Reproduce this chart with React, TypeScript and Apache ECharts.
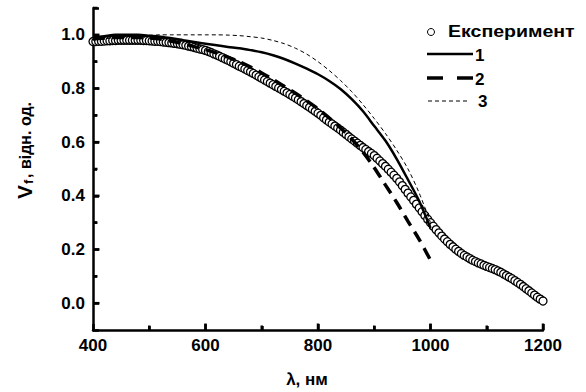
import React, { useEffect, useRef } from "react";
import * as echarts from "echarts";

const expStartNm = 400;
const expStepNm = 5;
const expValues = [
  0.975, 0.975, 0.976, 0.976, 0.977, 0.978, 0.978, 0.979, 0.979, 0.98,
  0.98, 0.98, 0.98, 0.98, 0.98, 0.98, 0.98, 0.98, 0.979, 0.979,
  0.978, 0.977, 0.976, 0.976, 0.975, 0.973, 0.972, 0.971, 0.97, 0.968,
  0.967, 0.965, 0.963, 0.961, 0.958, 0.956, 0.953, 0.95, 0.947, 0.945,
  0.942, 0.938, 0.934, 0.929, 0.925, 0.92, 0.915, 0.91, 0.905, 0.9,
  0.894, 0.889, 0.883, 0.878, 0.873, 0.867, 0.862, 0.856, 0.85, 0.844,
  0.838, 0.832, 0.826, 0.82, 0.814, 0.808, 0.802, 0.796, 0.79, 0.784,
  0.778, 0.771, 0.765, 0.758, 0.751, 0.744, 0.737, 0.73, 0.723, 0.715,
  0.708, 0.7, 0.691, 0.683, 0.675, 0.668, 0.66, 0.653, 0.645, 0.637,
  0.629, 0.62, 0.612, 0.604, 0.596, 0.588, 0.58, 0.573, 0.565, 0.558,
  0.55, 0.54, 0.53, 0.52, 0.51, 0.499, 0.488, 0.477, 0.465, 0.452,
  0.438, 0.424, 0.41, 0.396, 0.383, 0.369, 0.355, 0.341, 0.327, 0.313,
  0.3, 0.287, 0.274, 0.262, 0.25, 0.239, 0.229, 0.219, 0.21, 0.201,
  0.193, 0.185, 0.178, 0.172, 0.166, 0.16, 0.155, 0.15, 0.146, 0.141,
  0.137, 0.133, 0.129, 0.125, 0.12, 0.115, 0.109, 0.103, 0.097, 0.091,
  0.084, 0.077, 0.07, 0.062, 0.054, 0.046, 0.038, 0.03, 0.022, 0.015,
  0.008,
];

const modelNm = [
  400, 420, 440, 460, 480, 500, 520, 540, 560, 580, 600, 620, 640, 660, 680, 700,
  720, 740, 760, 780, 800, 820, 840, 860, 880, 900, 920, 940, 960, 980, 1000,
];
const model1 = [
  0.99, 0.995, 1.0, 1.0, 1.0, 0.997, 0.993, 0.987, 0.98, 0.973, 0.967, 0.961, 0.955, 0.95, 0.943, 0.935,
  0.924, 0.91, 0.893, 0.874, 0.853, 0.828, 0.798, 0.76, 0.715, 0.66, 0.605, 0.537, 0.46, 0.38, 0.28,
];
const model2 = [
  0.985, 0.988, 0.99, 0.99, 0.99, 0.988, 0.984, 0.976, 0.967, 0.956, 0.945, 0.932, 0.917, 0.9, 0.88, 0.858,
  0.834, 0.808, 0.782, 0.754, 0.724, 0.69, 0.653, 0.612, 0.563, 0.505, 0.44, 0.375, 0.305, 0.237, 0.16,
];
const model3 = [
  0.98, 0.985, 0.99, 0.993, 0.996, 0.998, 1.0, 1.0, 1.0, 1.0, 1.0, 1.0, 0.999, 0.997, 0.993, 0.988,
  0.979, 0.967, 0.95, 0.928, 0.9, 0.867, 0.83, 0.788, 0.74, 0.688, 0.632, 0.57, 0.5, 0.41, 0.3,
];

const seriesNames = ["Експеримент", "1", "2", "3"];
const xMin = 400;
const xMax = 1200;
const xStep = 200;
const yMin = -0.1;
const yMax = 1.1;

// tick positions (inward ticks)
const xMajorTicks = [600, 800, 1000, 1200];
const xMinorTicks = [500, 700, 900, 1100];
const yMajorTicks = [0, 0.2, 0.4, 0.6, 0.8, 1.0];
const yMinorTicks = [0.1, 0.3, 0.5, 0.7, 0.9, 1.1];

const FONT = '"Liberation Sans", Arial, sans-serif';

export default function App() {
  const ref = useRef<HTMLDivElement>(null);
  useEffect(() => {
    if (!ref.current) return;
    const chart = echarts.init(ref.current, null, { renderer: "svg" });
    const expData = expValues.map((v, i) => [expStartNm + i * expStepNm, v]);
    const pairs = (ys: number[]) => modelNm.map((x, i) => [x, ys[i]]);
    const xTickData = [
      ...xMajorTicks.map((v) => [v, yMin, 1]),
      ...xMinorTicks.map((v) => [v, yMin, 0]),
    ];
    const yTickData = [
      ...yMajorTicks.map((v) => [xMin, v, 1]),
      ...yMinorTicks.map((v) => [xMin, v, 0]),
    ];
    const axisParts = () => ({
      axisLine: { show: true, onZero: false, lineStyle: { color: "#000", width: 2.5 } },
      axisTick: { show: true, inside: true, length: 6, lineStyle: { color: "#000", width: 2.5 } },
      minorTick: { show: true, splitNumber: 2, length: 4, lineStyle: { color: "#000", width: 2.5 } },
      splitLine: { show: false },
      minorSplitLine: { show: false },
    });
    chart.setOption({
      animation: false,
      backgroundColor: "#ffffff",
      grid: { left: 93, right: 43, top: 8, bottom: 62, containLabel: false, outerBoundsMode: "none" },
      xAxis: {
        type: "value",
        min: xMin,
        max: xMax,
        interval: xStep,
        ...axisParts(),
        axisLabel: {
          color: "#000",
          fontFamily: FONT,
          fontWeight: "bold",
          fontSize: 17,
          margin: 7,
          formatter: (v: number) => String(v),
        },
      },
      yAxis: {
        type: "value",
        min: yMin,
        max: yMax,
        ...axisParts(),
        axisLabel: {
          color: "#000",
          fontFamily: FONT,
          fontWeight: "bold",
          fontSize: 17,
          margin: 8,
          formatter: (v: number) => (Math.abs(Math.round(v * 10)) % 2 === 0 ? v.toFixed(1) : ""),
        },
      },
      series: [
        {
          name: seriesNames[0],
          type: "scatter",
          data: expData,
          symbol: "circle",
          symbolSize: 8,
          itemStyle: { color: "#ffffff", borderColor: "#000", borderWidth: 1.3, opacity: 1 },
          emphasis: { disabled: true },
          z: 2,
        },
        {
          name: seriesNames[1],
          type: "line",
          data: pairs(model1),
          smooth: 0.3,
          symbol: "none",
          lineStyle: { color: "#000", width: 2.5, type: "solid" },
          z: 3,
        },
        {
          name: seriesNames[2],
          type: "line",
          data: pairs(model2),
          smooth: 0.3,
          symbol: "none",
          lineStyle: { color: "#000", width: 3.5, type: [12, 7] },
          z: 3,
        },
        {
          name: seriesNames[3],
          type: "line",
          data: pairs(model3),
          smooth: 0.3,
          symbol: "none",
          lineStyle: { color: "#000", width: 1, type: [4, 3] },
          z: 3,
        },
        {
          name: "xTicks",
          type: "custom",
          data: xTickData,
          silent: true,
          clip: false,
          z: 10,
          renderItem: (_p: any, api: any) => {
            const pt = api.coord([api.value(0), api.value(1)]);
            const len = api.value(2) ? 6.5 : 4.5;
            return {
              type: "rect",
              shape: { x: pt[0] - 1.25, y: pt[1] - len, width: 2.5, height: len },
              style: { fill: "#000" },
            };
          },
        },
        {
          name: "yTicks",
          type: "custom",
          data: yTickData,
          silent: true,
          clip: false,
          z: 10,
          renderItem: (_p: any, api: any) => {
            const pt = api.coord([api.value(0), api.value(1)]);
            const len = api.value(2) ? 6.5 : 4.5;
            return {
              type: "rect",
              shape: { x: pt[0], y: pt[1] - 1.25, width: len, height: 2.5 },
              style: { fill: "#000" },
            };
          },
        },
      ],
      graphic: [
        {
          type: "group",
          x: 24,
          y: 199,
          rotation: Math.PI / 2,
          children: [
            { type: "text", x: 0, y: 0, style: { text: "V", font: `bold 21px ${FONT}`, fill: "#000", align: "left", verticalAlign: "middle" } },
            { type: "text", x: 15, y: 4, style: { text: "f", font: `bold 13px ${FONT}`, fill: "#000", align: "left", verticalAlign: "middle" } },
            { type: "text", x: 21, y: 1, style: { text: ", відн. од.", font: `bold 16px ${FONT}`, fill: "#000", align: "left", verticalAlign: "middle" } },
          ],
        },
        {
          type: "text",
          x: 307,
          y: 379,
          style: { text: "λ, нм", font: `bold 17px ${FONT}`, fill: "#000", align: "center", verticalAlign: "middle" },
        },
        { type: "circle", shape: { cx: 431, cy: 32, r: 3.5 }, style: { fill: "#fff", stroke: "#000", lineWidth: 1 } },
        { type: "text", x: 448, y: 31, scaleX: 1.15, style: { text: seriesNames[0], font: `bold 17px ${FONT}`, fill: "#000", align: "left", verticalAlign: "middle" } },
        { type: "line", shape: { x1: 427, y1: 54, x2: 473, y2: 54 }, style: { stroke: "#000", lineWidth: 2.5 } },
        { type: "text", x: 475, y: 55, style: { text: seriesNames[1], font: `bold 17px ${FONT}`, fill: "#000", align: "left", verticalAlign: "middle" } },
        { type: "line", shape: { x1: 427, y1: 78, x2: 473, y2: 78 }, style: { stroke: "#000", lineWidth: 3.5, lineDash: [16, 14] } },
        { type: "text", x: 475, y: 79, style: { text: seriesNames[2], font: `bold 17px ${FONT}`, fill: "#000", align: "left", verticalAlign: "middle" } },
        { type: "line", shape: { x1: 428, y1: 101, x2: 469, y2: 101 }, style: { stroke: "#000", lineWidth: 1, lineDash: [4, 3] } },
        { type: "text", x: 478, y: 101, style: { text: seriesNames[3], font: `bold 17px ${FONT}`, fill: "#000", align: "left", verticalAlign: "middle" } },
      ],
    });
    return () => chart.dispose();
  }, []);
  return <div ref={ref} style={{ position: "fixed", left: 0, top: 0, width: 586, height: 392 }} />;
}
